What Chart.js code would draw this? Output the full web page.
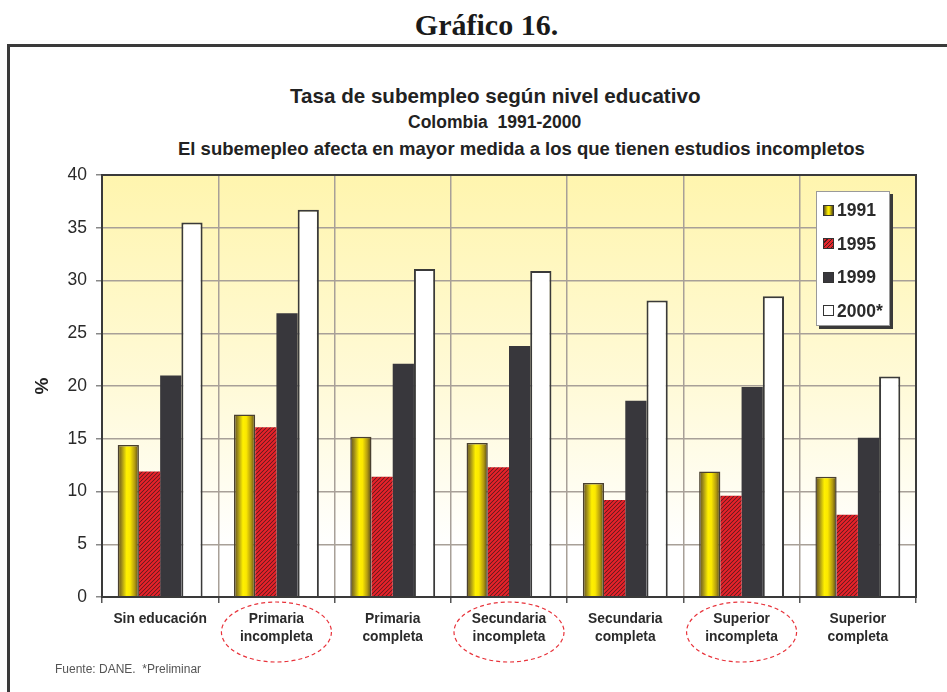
<!DOCTYPE html>
<html>
<head>
<meta charset="utf-8">
<script src="https://cdn.jsdelivr.net/npm/chart.js@4.4.0/dist/chart.umd.min.js"></script>
<style>
html,body{margin:0;padding:0;background:#fff;width:947px;height:692px;overflow:hidden;position:relative;font-family:"Liberation Sans",Arial,sans-serif}
#frame{position:absolute;left:7px;top:44px;width:1000px;height:1000px;border:3px solid #3a3a3a;box-sizing:border-box}
#head{position:absolute;left:13px;top:10px;width:947px;text-align:center;font:bold 30px/30px "Liberation Serif","Times New Roman",serif;color:#1a1a1a}
.t{position:absolute;white-space:pre;font-family:"Liberation Sans",Arial,sans-serif;font-weight:bold;color:#222}
#t1{left:290px;top:86px;font-size:20.6px;line-height:20.6px}
#t2{left:408px;top:114px;font-size:17.5px;line-height:17.5px}
#t3{left:178px;top:140px;font-size:18.5px;line-height:18.5px}
#wrap{position:absolute;left:0;top:0;width:947px;height:692px}
#foot{position:absolute;left:55px;top:662px;font:12px "Liberation Sans",Arial,sans-serif;color:#555;white-space:pre}
#legend{position:absolute;left:816px;top:191px;width:74px;height:135px;background:#fff;border:1px solid #9a9a9a;box-shadow:3px 3px 0 #3a3a3a;box-sizing:border-box}
.li{position:absolute;left:6px;height:20px;line-height:20px;font:bold 17.5px "Liberation Sans",Arial,sans-serif;color:#2a2a2a;white-space:nowrap}
.sw{display:inline-block;width:9px;height:9px;border:1.5px solid #333;vertical-align:middle;margin-right:3px;position:relative;top:-1px}
</style>
</head>
<body>
<div id="head">Gráfico 16.</div>
<div id="frame"></div>
<div id="t1" class="t">Tasa de subempleo según nivel educativo</div>
<div id="t2" class="t">Colombia  1991-2000</div>
<div id="t3" class="t">El subemepleo afecta en mayor medida a los que tienen estudios incompletos</div>
<div id="wrap"><canvas id="c" width="947" height="692"></canvas></div>
<div id="legend"></div>
<div id="foot">Fuente: DANE.  *Preliminar</div>
<script>
const categories = [
  ['Sin educación'],
  ['Primaria', 'incompleta'],
  ['Primaria', 'completa'],
  ['Secundaria', 'incompleta'],
  ['Secundaria', 'completa'],
  ['Superior', 'incompleta'],
  ['Superior', 'completa']
];
const seriesNames = ['1991', '1995', '1999', '2000*'];
const v1991 = [14.4, 17.3, 15.2, 14.6, 10.8, 11.9, 11.4];
const v1995 = [11.9, 16.1, 11.4, 12.3, 9.2, 9.6, 7.8];
const v1999 = [21.0, 26.9, 22.1, 23.8, 18.6, 19.9, 15.1];
const v2000 = [35.5, 36.7, 31.1, 30.9, 28.1, 28.5, 20.9];
const yTicks = [0, 5, 10, 15, 20, 25, 30, 35, 40];
const highlighted = [1, 3, 5];

const CAT_PCT = 0.73;
const canvas = document.getElementById('c');
const c2d = canvas.getContext('2d');

function hatchPattern() {
  const t = document.createElement('canvas');
  t.width = 4; t.height = 4;
  const x = t.getContext('2d');
  x.fillStyle = '#4a1a1c';
  x.fillRect(0, 0, 4, 4);
  x.strokeStyle = '#e8222a';
  x.lineWidth = 2.1;
  x.beginPath();
  x.moveTo(-1, 5); x.lineTo(5, -1);
  x.moveTo(-3, 3); x.lineTo(3, -3);
  x.moveTo(1, 7); x.lineTo(7, 1);
  x.stroke();
  return c2d.createPattern(t, 'repeat');
}
const hatch = hatchPattern();

function yellowFill(ctx) {
  const chart = ctx.chart;
  const xs = chart.scales && chart.scales.x;
  if (!xs || ctx.dataIndex === undefined || !(xs.width > 0)) return '#f2dc00';
  const catW = xs.width / categories.length;
  const barW = catW * CAT_PCT / 4;
  const left = xs.getPixelForValue(ctx.dataIndex) - catW * CAT_PCT / 2;
  if (!isFinite(left)) return '#f2dc00';
  const g = chart.ctx.createLinearGradient(left, 0, left + barW, 0);
  g.addColorStop(0, '#5e4e1c');
  g.addColorStop(0.18, '#9c8a1a');
  g.addColorStop(0.42, '#fff000');
  g.addColorStop(0.58, '#fbe800');
  g.addColorStop(0.8, '#b49c10');
  g.addColorStop(1, '#4e4218');
  return g;
}

const bgPlugin = {
  id: 'bg',
  beforeDraw(chart) {
    const a = chart.chartArea; const ctx = chart.ctx;
    const g = ctx.createLinearGradient(0, a.top, 0, a.bottom);
    g.addColorStop(0, '#fff5ae');
    g.addColorStop(0.5, '#fffad8');
    g.addColorStop(0.88, '#ffffff');
    g.addColorStop(1, '#ffffff');
    ctx.save(); ctx.fillStyle = g;
    ctx.fillRect(a.left, a.top, a.right - a.left, a.bottom - a.top);
    ctx.restore();
  },
  afterDatasetsDraw(chart) {
    const a = chart.chartArea; const ctx = chart.ctx;
    ctx.save();
    ctx.strokeStyle = '#3a3a3a'; ctx.lineWidth = 2;
    ctx.strokeRect(a.left, a.top, a.right - a.left, a.bottom - a.top);
    ctx.restore();
  },
  afterDraw(chart) {
    const xs = chart.scales.x; const ctx = chart.ctx;
    ctx.save();
    ctx.strokeStyle = '#e8323a'; ctx.lineWidth = 1.2; ctx.setLineDash([4, 3]);
    highlighted.forEach(i => {
      const cx = xs.getPixelForValue(i);
      ctx.beginPath();
      ctx.ellipse(cx, 632, 55, 30, 0, 0, Math.PI * 2);
      ctx.stroke();
    });
    ctx.restore();
  }
};

new Chart(canvas, {
  type: 'bar',
  data: {
    labels: categories,
    datasets: [
      { label: seriesNames[0], data: v1991, backgroundColor: yellowFill, borderColor: '#4a4030', borderWidth: 1.5 },
      { label: seriesNames[1], data: v1995, backgroundColor: hatch, borderColor: '#4a1c1e', borderWidth: 0 },
      { label: seriesNames[2], data: v1999, backgroundColor: '#38373c', borderColor: '#38373c', borderWidth: 0 },
      { label: seriesNames[3], data: v2000, backgroundColor: '#ffffff', borderColor: '#3a3a3a', borderWidth: 2 }
    ]
  },
  options: {
    responsive: false,
    animation: false,
    devicePixelRatio: 1,
    layout: { padding: { left: 27, right: 31, top: 175, bottom: 0 } },
    datasets: { bar: { categoryPercentage: CAT_PCT, barPercentage: 1.0 } },
    plugins: {
      legend: { display: false },
      tooltip: { enabled: false },
      title: { display: false }
    },
    scales: {
      x: {
        grid: { offset: true, color: '#a8a098', lineWidth: 1.5, tickLength: 6, tickColor: '#555', drawTicks: true },
        border: { color: '#2a2a2a', width: 2 },
        ticks: {
          color: '#2a2a2a', padding: 7, maxRotation: 0, autoSkip: false,
          font: { family: '"Liberation Sans", Arial, sans-serif', size: 13.8, weight: 'bold', lineHeight: 1.3 }
        },
        afterFit(scale) { scale.height = 95; }
      },
      y: {
        min: 0, max: 40,
        afterBuildTicks(scale) { scale.ticks = yTicks.map(v => ({ value: v })); },
        grid: { color: '#a8a098', lineWidth: 1.5, tickLength: 6, tickColor: '#888' },
        border: { color: '#2a2a2a', width: 2 },
        ticks: {
          color: '#2a2a2a', padding: 9,
          font: { family: '"Liberation Sans", Arial, sans-serif', size: 17.5 }
        },
        title: {
          display: true, text: '%', color: '#222',
          font: { family: '"Liberation Sans", Arial, sans-serif', size: 19, weight: 'bold', lineHeight: 1.2 },
          padding: { top: 4, bottom: 14 }
        },
        afterFit(scale) { scale.width = 75; }
      }
    }
  },
  plugins: [bgPlugin]
});

// HTML legend built from series names
const legend = document.getElementById('legend');
const swStyles = [
  'background:linear-gradient(90deg,#5e4e1c 0%,#fff000 45%,#fbe800 58%,#4e4218 100%);',
  'background:repeating-linear-gradient(135deg,#e3262b 0 2px,#4a1c1e 2px 3px);',
  'background:#38373c;',
  'background:#fff;'
];
seriesNames.forEach((n, i) => {
  const d = document.createElement('div');
  d.className = 'li';
  d.style.top = (8 + i * 33.5) + 'px';
  d.innerHTML = '<span class="sw" style="' + swStyles[i] + '"></span>' + n;
  legend.appendChild(d);
});
</script>
</body>
</html>
